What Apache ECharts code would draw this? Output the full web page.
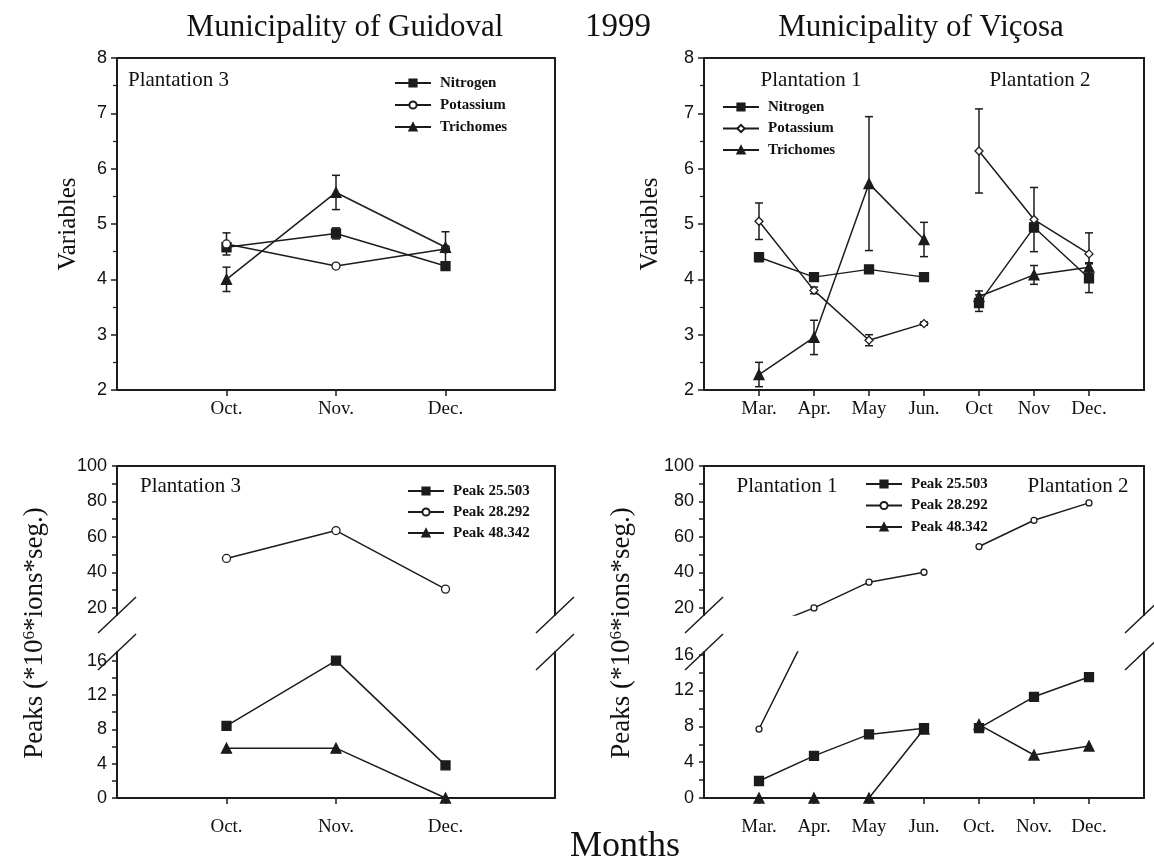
<!DOCTYPE html>
<html>
<head>
<meta charset="utf-8">
<title>1999 – Guidoval and Viçosa</title>
<script src="https://cdn.jsdelivr.net/npm/echarts@6.0.0/dist/echarts.min.js"></script>
<style>
html,body{margin:0;padding:0;background:#ffffff;}
#chart{width:1154px;height:861px;}
</style>
</head>
<body>
<div id="chart"></div>
<script>
// ===================== DATA =====================
const monthsGuidoval = ['', 'Oct.', 'Nov.', 'Dec.', ''];
const monthsVicosaTop = ['', 'Mar.', 'Apr.', 'May', 'Jun.', 'Oct', 'Nov', 'Dec.', ''];
const monthsVicosaBottom = ['', 'Mar.', 'Apr.', 'May', 'Jun.', 'Oct.', 'Nov.', 'Dec.', ''];

const peaksUpperLabels = [20, 40, 60, 80, 100];
const peaksUpperTicks = [20, 30, 40, 50, 60, 70, 80, 90, 100];
const peaksLowerLabels = [0, 4, 8, 12, 16];
const peaksLowerTicks = [0, 2, 4, 6, 8, 10, 12, 14, 16];

// Guidoval – Plantation 3 (means and half error bars)
const guidNitrogen     = [null, 4.58, 4.83, 4.24, null];
const guidNitrogenErr  = [null, 0.05, 0.10, 0.06, null];
const guidPotassium    = [null, 4.64, 4.24, 4.55, null];
const guidPotassiumErr = [null, 0.20, 0.04, 0.05, null];
const guidTrichomes    = [null, 4.00, 5.57, 4.58, null];
const guidTrichomesErr = [null, 0.22, 0.31, 0.28, null];

// Viçosa – Plantation 1 (Mar–Jun) and Plantation 2 (Oct–Dec)
const vicNitrogenP1     = [null, 4.40, 4.04, 4.18, 4.04, null, null, null, null];
const vicNitrogenP1Err  = [null, 0.08, 0.03, 0.04, 0.05, null, null, null, null];
const vicNitrogenP2     = [null, null, null, null, null, 3.57, 4.94, 4.02, null];
const vicNitrogenP2Err  = [null, null, null, null, null, 0.15, 0.08, 0.26, null];
const vicPotassiumP1    = [null, 5.05, 3.80, 2.90, 3.20, null, null, null, null];
const vicPotassiumP1Err = [null, 0.33, 0.06, 0.10, 0.03, null, null, null, null];
const vicPotassiumP2    = [null, null, null, null, null, 6.32, 5.08, 4.46, null];
const vicPotassiumP2Err = [null, null, null, null, null, 0.76, 0.58, 0.38, null];
const vicTrichomesP1    = [null, 2.28, 2.95, 5.73, 4.72, null, null, null, null];
const vicTrichomesP1Err = [null, 0.22, 0.31, 1.21, 0.31, null, null, null, null];
const vicTrichomesP2    = [null, null, null, null, null, 3.69, 4.08, 4.22, null];
const vicTrichomesP2Err = [null, null, null, null, null, 0.10, 0.17, 0.08, null];

// Peaks (*10^6 ions*seg.)
const guidPeak25503 = [null, 8.4, 16.0, 3.8, null];
const guidPeak28292 = [null, 47.9, 63.6, 30.6, null];
const guidPeak48342 = [null, 5.8, 5.8, 0, null];

const vicPeak25503P1 = [null, 1.9, 4.7, 7.1, 7.8, null, null, null, null];
const vicPeak25503P2 = [null, null, null, null, null, 7.8, 11.3, 13.5, null];
const vicPeak28292P1 = [null, 7.7, 20.0, 34.5, 40.1, null, null, null, null];
const vicPeak28292P2 = [null, null, null, null, null, 54.6, 69.4, 79.2, null];
const vicPeak48342P1 = [null, 0, 0, 0, 7.7, null, null, null, null];
const vicPeak48342P2 = [null, null, null, null, null, 8.2, 4.8, 5.8, null];

// ===================== STYLE / LAYOUT =====================
const INK = '#1c1c1c';
const SERIF = "'Liberation Serif', 'DejaVu Serif', serif";
const SANS = "'Liberation Sans', Arial, sans-serif";

const GRIDS = [
  {left: 117, top: 58,  width: 438, height: 332}, // 0 top-left
  {left: 704, top: 58,  width: 440, height: 332}, // 1 top-right
  {left: 117, top: 466, width: 438, height: 149}, // 2 bottom-left upper
  {left: 117, top: 652, width: 438, height: 146}, // 3 bottom-left lower
  {left: 704, top: 466, width: 440, height: 149}, // 4 bottom-right upper
  {left: 704, top: 652, width: 440, height: 146}  // 5 bottom-right lower
];

const chart = echarts.init(document.getElementById('chart'), null, {renderer: 'canvas'});

function xCat(gridIndex, cats, margin) {
  return {
    type: 'category', gridIndex, data: cats, boundaryGap: false,
    axisLine: {show: true, onZero: false, lineStyle: {color: INK, width: 2}},
    axisTick: {show: true, length: 6, alignWithLabel: true,
      interval: (i, v) => v !== '', lineStyle: {color: INK, width: 1.5}},
    axisLabel: {show: true, interval: 0, fontFamily: SERIF, fontSize: 19, color: '#111', margin},
    splitLine: {show: false}
  };
}
function xTopLine(gridIndex, cats) {
  return {
    type: 'category', gridIndex, data: cats, boundaryGap: false, position: 'top',
    axisLine: {show: true, onZero: false, lineStyle: {color: INK, width: 2}},
    axisTick: {show: false}, axisLabel: {show: false}, splitLine: {show: false}
  };
}
function yVariables(gridIndex, nameGap) {
  return {
    type: 'value', gridIndex, min: 2, max: 8, interval: 1,
    axisLine: {show: true, onZero: false, lineStyle: {color: INK, width: 2}},
    axisTick: {show: true, length: 6, lineStyle: {color: INK, width: 1.5}},
    minorTick: {show: true, splitNumber: 2, length: 4, lineStyle: {color: INK, width: 1.2}},
    axisLabel: {fontFamily: SANS, fontSize: 18, color: '#111', margin: 10},
    splitLine: {show: false},
    name: 'Variables', nameLocation: 'middle', nameGap,
    nameTextStyle: {fontFamily: SERIF, fontSize: 25, color: '#111'}
  };
}
function yPeaks(gridIndex, min, max, labels, ticks) {
  return {
    type: 'value', gridIndex, min, max,
    axisLine: {show: true, onZero: false, lineStyle: {color: INK, width: 2}},
    axisTick: {show: true, length: 5, customValues: ticks, lineStyle: {color: INK, width: 1.5}},
    axisLabel: {fontFamily: SANS, fontSize: 18, color: '#111', margin: 10, customValues: labels},
    splitLine: {show: false}
  };
}
function yRightLine(gridIndex, min, max) {
  return {
    type: 'value', gridIndex, min, max, position: 'right',
    axisLine: {show: true, onZero: false, lineStyle: {color: INK, width: 2}},
    axisTick: {show: false}, axisLabel: {show: false}, splitLine: {show: false}
  };
}

const SYM = {
  square:   {symbol: 'rect', symbolSize: 9, fill: INK},
  circle:   {symbol: 'circle', symbolSize: 8, fill: '#ffffff'},
  smallCirc:{symbol: 'circle', symbolSize: 6, fill: '#ffffff'},
  diamond:  {symbol: 'diamond', symbolSize: 8, fill: '#ffffff'},
  triangle: {symbol: 'triangle', symbolSize: 10, fill: INK}
};

function line(name, xi, yi, data, sym) {
  return {
    type: 'line', name, xAxisIndex: xi, yAxisIndex: yi, data,
    symbol: sym.symbol, symbolSize: sym.symbolSize, showAllSymbol: true,
    clip: true, connectNulls: false, z: 3,
    lineStyle: {color: INK, width: 1.5},
    itemStyle: {color: sym.fill, borderColor: INK, borderWidth: 1.3},
    emphasis: {disabled: true}, silent: true
  };
}

function errorBars(xi, yi, means, errs) {
  const data = [];
  means.forEach((m, i) => {
    if (m != null && errs[i] != null && errs[i] > 0) data.push([i, m - errs[i], m + errs[i]]);
  });
  return {
    type: 'custom', xAxisIndex: xi, yAxisIndex: yi, data, z: 2, silent: true,
    encode: {x: 0, y: [1, 2]},
    renderItem: (params, api) => {
      const lo = api.coord([api.value(0), api.value(1)]);
      const hi = api.coord([api.value(0), api.value(2)]);
      const c = 4;
      const st = {stroke: INK, lineWidth: 1.5};
      return {type: 'group', children: [
        {type: 'line', shape: {x1: lo[0], y1: lo[1], x2: hi[0], y2: hi[1]}, style: st},
        {type: 'line', shape: {x1: lo[0] - c, y1: lo[1], x2: lo[0] + c, y2: lo[1]}, style: st},
        {type: 'line', shape: {x1: hi[0] - c, y1: hi[1], x2: hi[0] + c, y2: hi[1]}, style: st}
      ]};
    }
  };
}

const legendText = {fontFamily: SERIF, fontWeight: 'bold', fontSize: 15, lineHeight: 16,
  color: '#111', padding: [0, 0, 0, 4]};
function legend(names, left, top, gap) {
  return {
    data: names, left, top, orient: 'vertical', itemWidth: 36, itemHeight: 9, itemGap: gap,
    selectedMode: false, formatter: n => n.split('|')[0], textStyle: legendText, padding: 0
  };
}

// ---------- text decorations ----------
function txt(text, x, y, size, align) {
  return {
    type: 'text', x, y, silent: true,
    style: {text, fill: '#111', font: size + 'px ' + SERIF,
      align: align || 'center', textAlign: align || 'center',
      verticalAlign: 'middle', textVerticalAlign: 'middle'}
  };
}
function slash(cx, cy) {
  return {type: 'line', silent: true,
    shape: {x1: cx - 19, y1: cy + 18, x2: cx + 19, y2: cy - 18},
    style: {stroke: INK, lineWidth: 1.5}};
}
function breakMarks(g) {
  const upBottom = GRIDS[g].top + GRIDS[g].height;
  const loTop = GRIDS[g + 1].top;
  const l = GRIDS[g].left, r = GRIDS[g].left + GRIDS[g].width;
  return [slash(l, upBottom), slash(l, loTop), slash(r, upBottom), slash(r, loTop)];
}
const supRich = {
  sup: {fontSize: 17, fontFamily: SERIF, verticalAlign: 'top', fill: '#111', color: '#111'}
};
function yTitle(text, x, y) {
  return {
    type: 'text', x, y, rotation: Math.PI / 2, silent: true,
    style: {text, fill: '#111', font: '27px ' + SERIF, fontSize: 27, fontFamily: SERIF,
      align: 'center', textAlign: 'center', verticalAlign: 'middle', textVerticalAlign: 'middle',
      rich: supRich}
  };
}

const option = {
  animation: false,
  backgroundColor: '#ffffff',
  grid: GRIDS.map((g, i) => Object.assign({
    containLabel: false,
    show: i < 2, borderColor: INK, borderWidth: 2
  }, g)),
  xAxis: [
    xCat(0, monthsGuidoval, 10),
    xCat(1, monthsVicosaTop, 10),
    xTopLine(2, monthsGuidoval),
    xCat(3, monthsGuidoval, 20),
    xTopLine(4, monthsVicosaBottom),
    xCat(5, monthsVicosaBottom, 20)
  ],
  yAxis: [
    yVariables(0, 36),
    yVariables(1, 41),
    yPeaks(2, 16, 100, peaksUpperLabels, peaksUpperTicks),
    yPeaks(3, 0, 17, peaksLowerLabels, peaksLowerTicks),
    yPeaks(4, 16, 100, peaksUpperLabels, peaksUpperTicks),
    yPeaks(5, 0, 16.3, peaksLowerLabels, peaksLowerTicks),
    yRightLine(2, 16, 100),
    yRightLine(3, 0, 17),
    yRightLine(4, 16, 100),
    yRightLine(5, 0, 16.3)
  ],
  legend: [
    legend(['Nitrogen|G', 'Potassium|G', 'Trichomes|G'], 394, 75, 6),
    legend(['Nitrogen|V', 'Potassium|V', 'Trichomes|V'], 722, 99, 5.5),
    legend(['Peak 25.503|G', 'Peak 28.292|G', 'Peak 48.342|G'], 407, 483, 5),
    legend(['Peak 25.503|V', 'Peak 28.292|V', 'Peak 48.342|V'], 865, 476, 5.5)
  ],
  series: [
    // top-left
    errorBars(0, 0, guidNitrogen, guidNitrogenErr),
    errorBars(0, 0, guidPotassium, guidPotassiumErr),
    errorBars(0, 0, guidTrichomes, guidTrichomesErr),
    line('Nitrogen|G', 0, 0, guidNitrogen, SYM.square),
    line('Potassium|G', 0, 0, guidPotassium, SYM.circle),
    line('Trichomes|G', 0, 0, guidTrichomes, SYM.triangle),
    // top-right
    errorBars(1, 1, vicNitrogenP1, vicNitrogenP1Err),
    errorBars(1, 1, vicNitrogenP2, vicNitrogenP2Err),
    errorBars(1, 1, vicPotassiumP1, vicPotassiumP1Err),
    errorBars(1, 1, vicPotassiumP2, vicPotassiumP2Err),
    errorBars(1, 1, vicTrichomesP1, vicTrichomesP1Err),
    errorBars(1, 1, vicTrichomesP2, vicTrichomesP2Err),
    line('Nitrogen|V', 1, 1, vicNitrogenP1, SYM.square),
    line('Nitrogen|V', 1, 1, vicNitrogenP2, SYM.square),
    line('Potassium|V', 1, 1, vicPotassiumP1, SYM.diamond),
    line('Potassium|V', 1, 1, vicPotassiumP2, SYM.diamond),
    line('Trichomes|V', 1, 1, vicTrichomesP1, SYM.triangle),
    line('Trichomes|V', 1, 1, vicTrichomesP2, SYM.triangle),
    // bottom-left (upper and lower part of broken axis)
    line('Peak 25.503|G', 3, 3, guidPeak25503, SYM.square),
    line('Peak 28.292|G', 2, 2, guidPeak28292, SYM.circle),
    line('Peak 28.292|G', 3, 3, guidPeak28292, SYM.circle),
    line('Peak 48.342|G', 3, 3, guidPeak48342, SYM.triangle),
    // bottom-right
    line('Peak 25.503|V', 5, 5, vicPeak25503P1, SYM.square),
    line('Peak 25.503|V', 5, 5, vicPeak25503P2, SYM.square),
    line('Peak 28.292|V', 4, 4, vicPeak28292P1, SYM.smallCirc),
    line('Peak 28.292|V', 4, 4, vicPeak28292P2, SYM.smallCirc),
    line('Peak 28.292|V', 5, 5, vicPeak28292P1, SYM.smallCirc),
    line('Peak 48.342|V', 5, 5, vicPeak48342P1, SYM.triangle),
    line('Peak 48.342|V', 5, 5, vicPeak48342P2, SYM.triangle)
  ],
  graphic: [
    txt('Municipality of Guidoval', 345, 28, 31),
    txt('1999', 618, 27, 33),
    txt('Municipality of Viçosa', 921, 28, 31),
    txt('Plantation 3', 128, 80, 21, 'left'),
    txt('Plantation 1', 811, 80, 21),
    txt('Plantation 2', 1040, 80, 21),
    txt('Plantation 3', 140, 486, 21, 'left'),
    txt('Plantation 1', 787, 486, 21),
    txt('Plantation 2', 1078, 486, 21),
    txt('Months', 625, 847, 36),
    yTitle('Peaks (*10{sup|6}*ions*seg.)', 35, 633),
    yTitle('Peaks (*10{sup|6}*ions*seg.)', 622, 633)
  ].concat(breakMarks(2), breakMarks(4))
};

chart.setOption(option);
</script>
</body>
</html>
